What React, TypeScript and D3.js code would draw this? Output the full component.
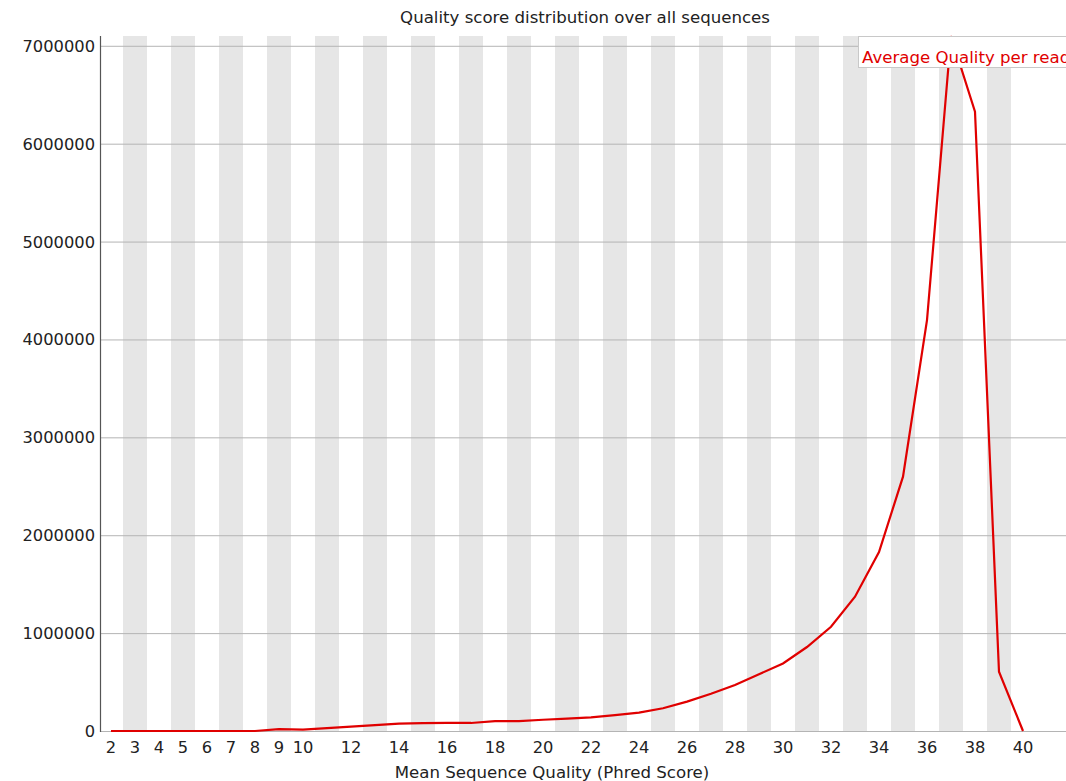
import React from "react";
import * as d3 from "d3";

const qualities: number[] = [2,3,4,5,6,7,8,9,10,11,12,13,14,15,16,17,18,19,20,21,22,23,24,25,26,27,28,29,30,31,32,33,34,35,36,37,38,39,40];
const readCounts: number[] = [0,0,0,0,0,0,0,20000,15000,30000,45000,61000,75000,80000,82000,82000,100000,100000,115000,126000,140000,163000,187000,232000,300000,380000,470000,580000,690000,858000,1065000,1372000,1828000,2598000,4198000,7100000,6326000,606000,0];
const yTicks: number[] = [0,1000000,2000000,3000000,4000000,5000000,6000000,7000000];
const xTickLabels: number[] = [2,3,4,5,6,7,8,9,10,12,14,16,18,20,22,24,26,28,30,32,34,36,38,40];

const title = "Quality score distribution over all sequences";
const xTitle = "Mean Sequence Quality (Phred Score)";
const legendLabel = "Average Quality per read";

export default function App() {
  const W = 1066, H = 781;
  const left = 100, right = 1066, top = 36, bottom = 731;
  const font = "'DejaVu Sans', Verdana, sans-serif";
  const fs = 16.3;
  const fsBig = 16.6;

  const x = d3.scaleBand<number>().domain(qualities).range([99, 99 + 24 * qualities.length]).padding(0);
  const cx = (c: number) => (x(c) as number) + x.bandwidth() / 2;
  const y = d3.scaleLinear().domain([0, 7100000]).range([bottom, top]);

  const line = d3.line<number>()
    .x((_, i) => cx(qualities[i]))
    .y((d) => y(d));

  return (
    <div style={{ position: "fixed", left: 0, top: 0, width: W, height: H, overflow: "hidden" }}>
      <svg width={W} height={H} style={{ display: "block", background: "#fff" }} fontFamily={font}>
        <rect x={0} y={0} width={W} height={H} fill="#fff" />
        {qualities.filter((c) => c % 2 === 1).map((c) => (
          <rect key={"s" + c} x={x(c)} y={top} width={x.bandwidth()} height={bottom - top} fill="#e6e6e6" />
        ))}
        {yTicks.map((t) => (
          <g key={"y" + t}>
            {t > 0 && <line x1={left} x2={right} y1={y(t) + 0.5} y2={y(t) + 0.5} stroke="#b4b4b4" strokeWidth={1} />}
            <text x={95} y={y(t) + 6} textAnchor="end" fontSize={fs} fill="#222">{t}</text>
          </g>
        ))}
        <line x1={left} x2={right} y1={bottom + 0.5} y2={bottom + 0.5} stroke="#b4b4b4" strokeWidth={1} />
        <line x1={left + 0.5} x2={left + 0.5} y1={top} y2={bottom + 1} stroke="#555" strokeWidth={1.2} />
        {xTickLabels.map((c) => (
          <text key={"x" + c} x={cx(c)} y={753} textAnchor="middle" fontSize={fs} fill="#222">{c}</text>
        ))}
        <path d={line(readCounts) || ""} fill="none" stroke="#e00000" strokeWidth={2.2} strokeLinejoin="miter" />
        <text x={585} y={23} textAnchor="middle" fontSize={fsBig} fill="#222">{title}</text>
        <text x={552} y={778} textAnchor="middle" fontSize={fsBig} fill="#222">{xTitle}</text>
        <rect x={858.5} y={36.5} width={220} height={31} fill="#fff" stroke="#c8c8c8" strokeWidth={1} />
        <text x={862} y={63} fontSize={fsBig} fill="#e00000">{legendLabel}</text>
      </svg>
    </div>
  );
}
